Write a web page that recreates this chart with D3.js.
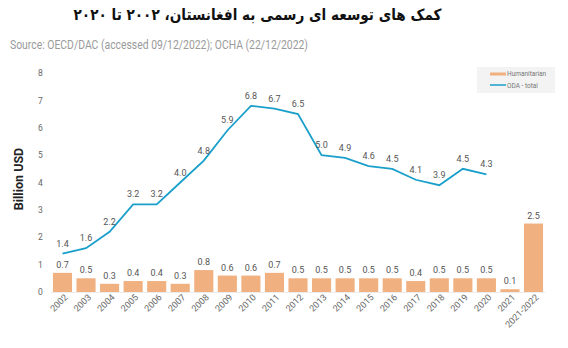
<!DOCTYPE html>
<html>
<head>
<meta charset="utf-8">
<script src="https://cdn.jsdelivr.net/npm/d3@7/dist/d3.min.js"></script>
<style>
  html, body { margin: 0; padding: 0; background: #fff; }
  svg { display: block; }
  .cond { font-family: "Liberation Sans Narrow", Roboto, "DejaVu Sans Condensed", sans-serif; }
</style>
</head>
<body>
<svg id="chart" width="568" height="348"></svg>
<script>
// Afghanistan ODA and humanitarian funding, billion USD
const years = ["2002","2003","2004","2005","2006","2007","2008","2009","2010","2011",
               "2012","2013","2014","2015","2016","2017","2018","2019","2020","2021","2021-2022"];
const humanitarian = [0.7,0.5,0.3,0.4,0.4,0.3,0.8,0.6,0.6,0.7,
                      0.5,0.5,0.5,0.5,0.5,0.4,0.5,0.5,0.5,0.1,2.5];
const odaYears = ["2002","2003","2004","2005","2006","2007","2008","2009","2010","2011",
                  "2012","2013","2014","2015","2016","2017","2018","2019","2020"];
const odaTotal = [1.4,1.6,2.2,3.2,3.2,4.0,4.8,5.9,6.8,6.7,6.5,5.0,4.9,4.6,4.5,4.1,3.9,4.5,4.3];
const yTicks = [0,1,2,3,4,5,6,7,8];
const legendLabels = ["Humanitarian", "ODA - total"];

const barColor = "#f0b07f";
const lineColor = "#1a9fcb";

const svg = d3.select("#chart");

const x = d3.scaleBand().domain(years).range([50.7, 545.3]).paddingInner(0.19).paddingOuter(0.095);
const y = d3.scaleLinear().domain([0, 8]).range([292, 73]);

// title and source
svg.append("text")
  .attr("transform", "translate(257.5,20) scale(0.88,1)")
  .attr("text-anchor", "middle")
  .attr("direction", "rtl")
  .style("font-family", "'DejaVu Sans', sans-serif")
  .style("font-weight", "bold")
  .style("font-size", "15.5px")
  .attr("fill", "#111")
  .text("کمک های توسعه ای رسمی به افغانستان، ۲۰۰۲ تا ۲۰۲۰");

svg.append("text")
  .attr("class", "cond")
  .attr("x", 10).attr("y", 49)
  .attr("textLength", 298)
  .attr("lengthAdjust", "spacingAndGlyphs")
  .style("font-size", "12px")
  .attr("fill", "#9a9a9a")
  .text("Source: OECD/DAC (accessed 09/12/2022); OCHA (22/12/2022)");

// y axis labels
const yAxis = d3.axisLeft(y).tickValues(yTicks).tickSize(0).tickPadding(0);
const yg = svg.append("g").attr("transform", "translate(44,0)").call(yAxis);
yg.select(".domain").remove();
yg.selectAll("text")
  .attr("class", "cond")
  .attr("x", -3.5)
  .attr("text-anchor", "middle")
  .style("font-size", "8.5px")
  .attr("fill", "#666");

svg.append("text")
  .attr("transform", "translate(23,179) rotate(-90)")
  .attr("text-anchor", "middle")
  .style("font-family", "Roboto, sans-serif")
  .style("font-weight", "bold")
  .style("font-size", "12.5px")
  .attr("fill", "#222")
  .text("Billion USD");

// baseline
svg.append("line")
  .attr("x1", x.range()[0]).attr("x2", x.range()[1])
  .attr("y1", y(0) + 0.5).attr("y2", y(0) + 0.5)
  .attr("stroke", "#ececec");

// humanitarian bars
svg.append("g").selectAll("rect")
  .data(years)
  .join("rect")
  .attr("x", d => x(d))
  .attr("width", x.bandwidth())
  .attr("y", (d, i) => y(humanitarian[i]))
  .attr("height", (d, i) => y(0) - y(humanitarian[i]))
  .attr("fill", barColor);

svg.append("g").selectAll("text")
  .data(years)
  .join("text")
  .attr("class", "cond")
  .attr("x", d => x(d) + x.bandwidth() / 2)
  .attr("y", (d, i) => y(humanitarian[i]) - 5)
  .attr("text-anchor", "middle")
  .style("font-size", "9px")
  .attr("fill", "#555")
  .text((d, i) => humanitarian[i].toFixed(1));

// ODA total line
const line = d3.line()
  .x((d, i) => x(odaYears[i]) + x.bandwidth() / 2)
  .y(d => y(d));

svg.append("path")
  .datum(odaTotal)
  .attr("d", line)
  .attr("fill", "none")
  .attr("stroke", lineColor)
  .attr("stroke-width", 1.8)
  .attr("stroke-linejoin", "miter");

svg.append("g").selectAll("text")
  .data(odaTotal)
  .join("text")
  .attr("class", "cond")
  .attr("x", (d, i) => x(odaYears[i]) + x.bandwidth() / 2)
  .attr("y", d => y(d) - 7)
  .attr("text-anchor", "middle")
  .style("font-size", "9px")
  .attr("fill", "#555")
  .text(d => d.toFixed(1));

// x axis labels
const xAxis = d3.axisBottom(x).tickSize(0).tickPadding(0);
const xg = svg.append("g").attr("transform", `translate(0,${y(0) + 4})`).call(xAxis);
xg.select(".domain").remove();
xg.selectAll("text")
  .attr("class", "cond")
  .attr("transform", "rotate(-45)")
  .attr("text-anchor", "end")
  .attr("dx", "0.3em")
  .attr("dy", "0.6em")
  .style("font-size", "9px")
  .attr("fill", "#666");

// legend
const lg = svg.append("g").attr("transform", "translate(477,67)");
lg.append("rect").attr("width", 78).attr("height", 26).attr("fill", "#f3f3f3");
lg.append("rect").attr("x", 13).attr("y", 5.5).attr("width", 16).attr("height", 3).attr("fill", barColor);
lg.append("line").attr("x1", 13).attr("x2", 29).attr("y1", 18).attr("y2", 18)
  .attr("stroke", lineColor).attr("stroke-width", 1.5);
lg.selectAll("text.leg")
  .data(legendLabels)
  .join("text")
  .attr("class", "leg cond")
  .attr("x", 30)
  .attr("y", (d, i) => 9 + i * 12)
  .style("font-size", "6.5px")
  .attr("fill", "#777")
  .text(d => d);
</script>
</body>
</html>
